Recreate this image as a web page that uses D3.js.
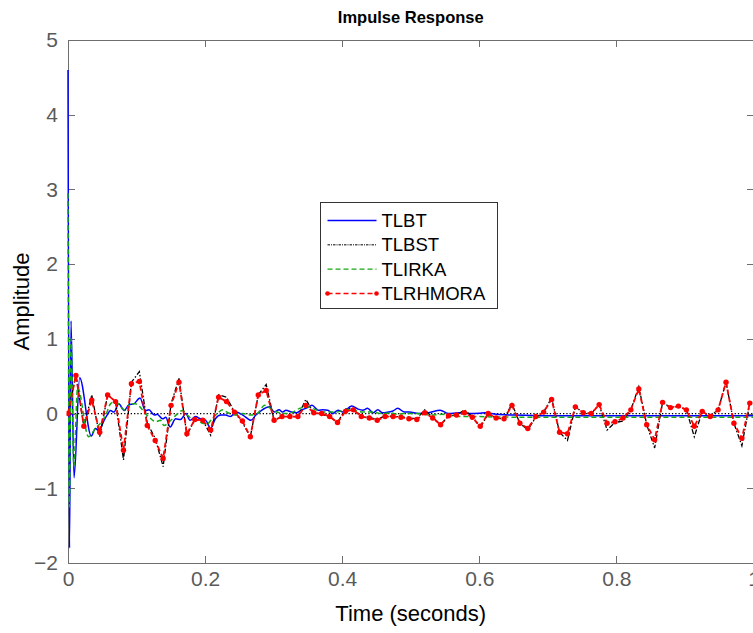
<!DOCTYPE html>
<html lang="en">
  <head>
    <meta charset="UTF-8" />
    <title>Impulse Response</title>
    <script src="https://d3js.org/d3.v7.min.js"></script>
    <style>
      body {
        margin: 0;
        padding: 0;
        background: #ffffff;
        overflow: hidden;
      }
      svg text {
        font-family: "Liberation Sans", Arial, sans-serif;
      }
      .axis path,
      .axis line {
        stroke: #6e6e6e;
        stroke-width: 1;
        shape-rendering: crispEdges;
      }
      .axis text {
        fill: #5a5a5a;
        font-size: 21px;
      }
    </style>
  </head>
  <body>
    <div id="chart"></div>

    <script>
      const width = 753;
      const height = 633;

      // sample step of the discrete responses (TLBST, TLRHMORA)
      const sampleStep = 0.011565;

      const seriesNames = ["TLBT", "TLBST", "TLIRKA", "TLRHMORA"];
      const xTicks = [0, 0.2, 0.4, 0.6, 0.8, 1];
      const yTicks = [-2, -1, 0, 1, 2, 3, 4, 5];

      // TLBT (blue, solid) - time / amplitude knots
      const tlbtTime = [
        0, 0.0022, 0.0044, 0.0088, 0.017, 0.034, 0.04, 0.045, 0.0526, 0.057,
        0.062, 0.067, 0.074, 0.082, 0.089, 0.096, 0.105, 0.113, 0.118, 0.126,
        0.13, 0.138, 0.1426, 0.149, 0.157, 0.164, 0.172, 0.178, 0.186, 0.193,
        0.201, 0.208, 0.215, 0.223, 0.23, 0.237, 0.245, 0.255, 0.267, 0.274,
        0.282, 0.294, 0.301, 0.308, 0.313, 0.318, 0.326, 0.333, 0.34, 0.347,
        0.356, 0.365, 0.372, 0.379, 0.386, 0.394, 0.401, 0.414, 0.423, 0.43,
        0.437, 0.445, 0.452, 0.459, 0.467, 0.474, 0.481, 0.491, 0.498, 0.511,
        0.526, 0.543, 0.555, 0.57, 0.585, 0.6, 0.608, 0.625, 0.65, 0.7, 0.8, 1.0,
      ];
      const tlbtValue = [
        4.6, -1.8, 1.24, -0.86, 0.48, -0.3, -0.2, -0.23, -0.09, -0.02,
        0.04, 0.02, 0.13, 0.04, 0.12, 0.13, 0.21, 0.04, 0.05, -0.02,
        -0.01, -0.07, -0.05, -0.18, -0.07, -0.08, 0.0, -0.09, -0.04, -0.07,
        -0.09, -0.2, -0.07, -0.02, -0.02, -0.04, 0.02, -0.02, -0.09, -0.02,
        0.04, 0.09, 0.02, 0.05, 0.02, 0.045, 0.02, 0.01, 0.045, 0.07,
        0.11, 0.045, 0.05, 0.045, 0.0, 0.045, 0.02, 0.1, 0.06, 0.045,
        0.07, 0.01, 0.05, 0.01, 0.02, 0.035, 0.07, 0.02, 0.02, 0.0,
        0.01, 0.045, 0.0, 0.01, 0.0, 0.005, 0.012, -0.01, -0.02, -0.03, -0.03, -0.03,
      ];

      // TLBST (black, dash-dot) - one value per sample
      const tlbstValue = [
        0, 0.52, -0.18, 0.25, -0.31, 0.25, 0.16, -0.62, 0.42, 0.56,
        -0.13, -0.33, -0.71, 0.13, 0.47, -0.29, -0.08, -0.09, -0.29, 0.25,
        0.22, 0.02, -0.12, -0.31, 0.25, 0.39, -0.09, -0.04, -0.04, -0.04,
        0.19, 0.01, -0.01, -0.04, -0.12, 0.06, 0.07, -0.04, -0.05, -0.08,
        -0.03, -0.04, -0.04, -0.06, -0.07, 0.05, -0.05, -0.15, -0.03, -0.02,
        0.05, -0.04, -0.19, 0, -0.06, -0.07, 0.13, -0.13, -0.22, -0.05,
        0.02, 0.21, -0.25, -0.36, 0.09, 0.01, 0, 0.12, -0.22, -0.12,
        -0.1, 0.05, 0.36, -0.15, -0.46, 0.15, 0.08, 0.1, 0.05, -0.31,
        0.03, -0.04, 0.05, 0.42, -0.13, -0.43, 0.14, 0.1,
      ];

      // TLIRKA (green, dashed) - time / amplitude knots
      const tlirkaTime = [
        0, 0.002, 0.0045, 0.0085, 0.014, 0.03, 0.04, 0.049, 0.055, 0.062,
        0.069, 0.077, 0.084, 0.091, 0.098, 0.105, 0.111, 0.121, 0.128, 0.135,
        0.14, 0.15, 0.16, 0.167, 0.174, 0.181, 0.189, 0.196, 0.203, 0.21,
        0.218, 0.225, 0.232, 0.242, 0.255, 0.267, 0.276, 0.287, 0.299, 0.309,
        0.319, 0.328, 0.338, 0.35, 0.362, 0.372, 0.382, 0.392, 0.401, 0.411,
        0.421, 0.43, 0.44, 0.45, 0.46, 0.47, 0.48, 0.49, 0.51, 0.53,
        0.545, 0.56, 0.58, 0.6, 0.62, 0.7, 1.0,
      ];
      const tlirkaValue = [
        2.95, -1.25, 1.0, -0.7, 0.35, -0.31, -0.2, -0.11, -0.02, 0.13,
        0.16, 0.09, 0.04, 0.13, 0.13, 0.09, 0.02, -0.07, -0.11, -0.09,
        -0.16, -0.09, 0.0, 0.04, -0.02, -0.07, -0.09, -0.13, -0.14, -0.07,
        0.0, 0.05, 0.02, -0.02, 0.0, -0.02, 0.0, 0.11, 0.045, 0.01,
        0.0, 0.02, 0.07, 0.09, 0.05, 0.02, 0.02, 0.02, 0.045, 0.055,
        0.035, 0.02, 0.02, 0.01, 0.0, 0.01, -0.01, 0.0, 0.0, -0.02,
        -0.01, -0.03, -0.04, -0.04, -0.045, -0.05, -0.05,
      ];

      // TLRHMORA (red, dashed with dots) - one value per sample
      const tlrhmoraValue = [
        0, 0.51, -0.17, 0.18, -0.25, 0.25, 0.16, -0.49, 0.4, 0.43,
        -0.16, -0.36, -0.6, 0.11, 0.42, -0.27, -0.08, -0.09, -0.22, 0.22,
        0.16, 0.02, -0.1, -0.31, 0.25, 0.31, -0.09, -0.04, -0.04, -0.04,
        0.11, 0.01, 0, -0.04, -0.12, 0.03, 0.05, -0.04, -0.06, -0.09,
        -0.04, -0.04, -0.05, -0.07, -0.08, 0.01, -0.06, -0.15, -0.03, -0.02,
        0.01, -0.05, -0.17, 0, -0.06, -0.07, 0.11, -0.13, -0.2, -0.04,
        0.02, 0.19, -0.25, -0.27, 0.09, 0.01, 0, 0.12, -0.13, -0.11,
        -0.06, 0.05, 0.33, -0.15, -0.35, 0.15, 0.08, 0.1, 0.05, -0.17,
        0.03, -0.04, 0.05, 0.42, -0.13, -0.33, 0.14,
      ];

      const margin = { left: 68, top: 40, right: 753.5, bottom: 563 };

      const x = d3.scaleLinear().domain([0, 1]).range([margin.left, margin.right]);
      const y = d3.scaleLinear().domain([-2, 5]).range([margin.bottom, margin.top]);

      const svg = d3
        .select("#chart")
        .append("svg")
        .attr("width", width)
        .attr("height", height);

      svg.append("rect").attr("width", width).attr("height", height).attr("fill", "#fff");

      // clip slightly wider on the left so the t=0 spikes sit over the axis line
      svg
        .append("defs")
        .append("clipPath")
        .attr("id", "plot-clip")
        .append("rect")
        .attr("x", margin.left - 1.5)
        .attr("y", margin.top)
        .attr("width", margin.right - margin.left + 1.5)
        .attr("height", margin.bottom - margin.top);

      // axes first (ticks pointing inward), curves are drawn on top
      const fmt = (d) => (d === 0 ? "0" : d3.format("~g")(d));
      svg
        .append("g")
        .attr("class", "axis")
        .attr("transform", `translate(0,${margin.bottom})`)
        .call(d3.axisBottom(x).tickValues(xTicks).tickFormat(fmt).tickSizeInner(-7).tickSizeOuter(0).tickPadding(8));
      svg
        .append("g")
        .attr("class", "axis")
        .attr("transform", `translate(0,${margin.top})`)
        .call(d3.axisTop(x).tickValues(xTicks).tickFormat("").tickSizeInner(-7).tickSizeOuter(0));
      svg
        .append("g")
        .attr("class", "axis")
        .attr("transform", `translate(${margin.left},0)`)
        .call(d3.axisLeft(y).tickValues(yTicks).tickFormat(fmt).tickSizeInner(-7).tickSizeOuter(0).tickPadding(10));
      svg
        .append("g")
        .attr("class", "axis")
        .attr("transform", `translate(${margin.right},0)`)
        .call(d3.axisRight(y).tickValues(yTicks).tickFormat("").tickSizeInner(-7).tickSizeOuter(0));

      // pairs for each series
      const tlbtData = d3.zip(tlbtTime, tlbtValue);
      const tlirkaData = d3.zip(tlirkaTime, tlirkaValue);
      const tlbstData = tlbstValue.map((v, i) => [i * sampleStep, v]);
      const tlrhmoraData = tlrhmoraValue.map((v, i) => [i * sampleStep, v]);

      const smoothLine = d3
        .line()
        .x((d) => x(d[0]))
        .y((d) => y(d[1]))
        .curve(d3.curveMonotoneX);
      const straightLine = d3
        .line()
        .x((d) => x(d[0]))
        .y((d) => y(d[1]));

      const plot = svg.append("g").attr("clip-path", "url(#plot-clip)");

      // zero reference line
      plot
        .append("line")
        .attr("x1", x(0))
        .attr("x2", x(1))
        .attr("y1", y(0))
        .attr("y2", y(0))
        .attr("stroke", "#000")
        .attr("stroke-width", 1.3)
        .attr("stroke-dasharray", "1.3,2");

      plot
        .append("path")
        .attr("d", smoothLine(tlbtData))
        .attr("fill", "none")
        .attr("stroke", "#0000ff")
        .attr("stroke-width", 1.5);

      plot
        .append("path")
        .attr("d", straightLine(tlbstData))
        .attr("fill", "none")
        .attr("stroke", "#000")
        .attr("stroke-width", 1.3)
        .attr("stroke-dasharray", "5,2,1.5,2");

      plot
        .append("path")
        .attr("d", smoothLine(tlirkaData))
        .attr("fill", "none")
        .attr("stroke", "#12a812")
        .attr("stroke-width", 1.5)
        .attr("stroke-dasharray", "5,3");

      plot
        .append("path")
        .attr("d", straightLine(tlrhmoraData))
        .attr("fill", "none")
        .attr("stroke", "#ff0000")
        .attr("stroke-width", 1.8)
        .attr("stroke-dasharray", "5,3");

      plot
        .selectAll("circle.rh")
        .data(tlrhmoraData)
        .enter()
        .append("circle")
        .attr("class", "rh")
        .attr("cx", (d) => x(d[0]))
        .attr("cy", (d) => y(d[1]))
        .attr("r", 2.7)
        .attr("fill", "#ff0000");

      // title and axis labels
      svg
        .append("text")
        .attr("x", (margin.left + margin.right) / 2)
        .attr("y", 23)
        .attr("text-anchor", "middle")
        .attr("font-size", "16.5px")
        .attr("font-weight", "bold")
        .attr("fill", "#000")
        .text("Impulse Response");

      svg
        .append("text")
        .attr("x", (margin.left + margin.right) / 2)
        .attr("y", 621)
        .attr("text-anchor", "middle")
        .attr("font-size", "22px")
        .attr("fill", "#000")
        .text("Time (seconds)");

      svg
        .append("text")
        .attr("transform", `translate(29,${(margin.top + margin.bottom) / 2}) rotate(-90)`)
        .attr("text-anchor", "middle")
        .attr("font-size", "22px")
        .attr("fill", "#000")
        .text("Amplitude");

      // legend
      const legend = svg.append("g").attr("transform", "translate(320.5,202.5)");
      legend
        .append("rect")
        .attr("width", 177)
        .attr("height", 106)
        .attr("fill", "#fff")
        .attr("stroke", "#333")
        .attr("stroke-width", 1);

      const legendStyles = [
        { color: "#0000ff", dash: null, width: 1.4 },
        { color: "#000", dash: "2.5,1,1,1", width: 1 },
        { color: "#12a812", dash: "5,3", width: 1.4 },
        { color: "#ff0000", dash: "5,3", width: 1.4 },
      ];
      const legendRowY = d3.scalePoint().domain(seriesNames).range([18, 91]);

      seriesNames.forEach((name, i) => {
        const row = legend.append("g").attr("transform", `translate(0,${legendRowY(name)})`);
        const st = legendStyles[i];
        row
          .append("line")
          .attr("x1", 7)
          .attr("x2", 56)
          .attr("stroke", st.color)
          .attr("stroke-width", st.width)
          .attr("stroke-dasharray", st.dash);
        if (name === "TLRHMORA") {
          [7, 56].forEach((cx) =>
            row.append("circle").attr("cx", cx).attr("r", 2.3).attr("fill", "#ff0000")
          );
        }
        row
          .append("text")
          .attr("x", 61)
          .attr("y", 6.5)
          .attr("font-size", "18.5px")
          .attr("fill", "#000")
          .text(name);
      });
    </script>
  </body>
</html>
